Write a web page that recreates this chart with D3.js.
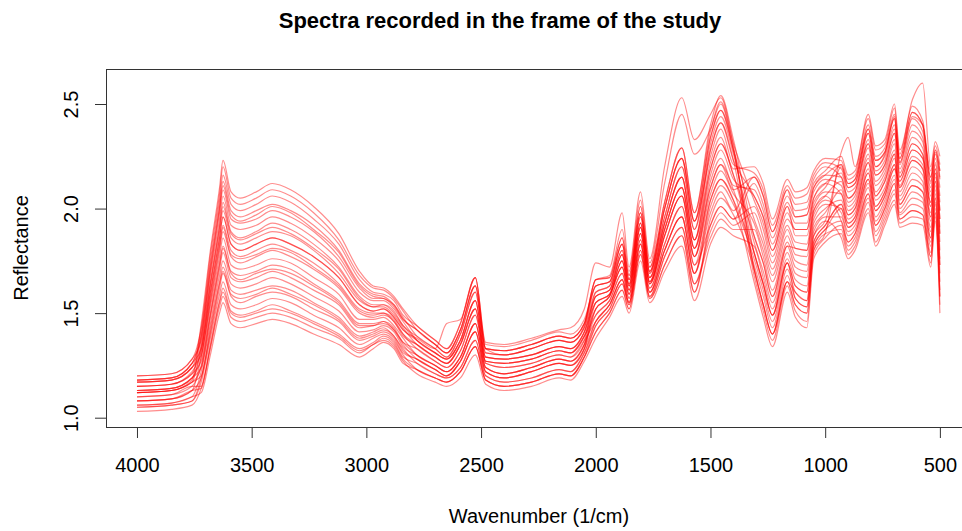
<!DOCTYPE html>
<html lang="en">

<head>
  <meta charset="UTF-8">
  <script src="https://cdn.jsdelivr.net/npm/d3@7"></script>
  <title>Spectra recorded in the frame of the study</title>
  <style>
    body { margin: 0; background: #fff; }
    text { font-family: "Liberation Sans", Arial, sans-serif; fill: #000; }
  </style>
</head>

<body>
  <script>
  const wavenumbers = [4000,3850,3760,3720,3680,3640,3625,3590,3550,3480,3410,3330,3230,3120,3030,2970,2925,2880,2840,
    2780,2700,2650,2590,2525,2480,2400,2280,2160,2110,2050,2000,1940,1885,1855,1805,1765,1700,1625,1570,
    1500,1455,1400,1310,1270,1230,1165,1130,1080,1050,1000,930,900,870,812,780,740,698,675,620,575,540,520,500];

  const xTicks = [4000, 3500, 3000, 2500, 2000, 1500, 1000, 500];
  const yTicks = [1.0, 1.5, 2.0, 2.5];

  // reflectance of each recorded spectrum
  const s01 = [1.06,1.07,1.10, 1.12,1.30,1.50,1.55,1.45,1.43,1.45,1.47,1.45,1.40,1.35,1.29,1.33,1.36,1.33,1.26, 1.23,1.19,1.17,1.22,1.34,1.18,1.15,1.17,1.21,1.20,1.29, 1.44,1.52,1.64,1.54,1.80,1.58,1.77,1.91,1.64, 1.89,1.98,1.92, 1.98,1.86,1.71,1.92,1.84,1.83,2.01,2.08, 2.07,1.97,2.00,2.22,2.06,2.13,2.26,2.10,2.23,2.19,1.96,2.13,1.88];
  const s02 = [1.03,1.04,1.06, 1.14,1.33,1.53,1.58,1.48,1.46,1.48,1.50,1.48,1.43,1.38,1.31,1.35,1.37,1.34,1.27, 1.21,1.17,1.15,1.19,1.30,1.16,1.13,1.15,1.19,1.18,1.27, 1.38,1.48,1.58,1.50,1.75,1.55,1.70,1.82,1.56, 1.83,1.91,1.87, 1.82,1.67,1.52,1.76,1.66,1.63,1.89,1.96, 1.96,1.87,1.90,2.10,1.94,2.02,2.14,2.00,2.08,2.05,1.84,2.03,1.69];
  const s03 = [1.10,1.11,1.15, 1.15,1.35,1.56,1.62,1.51,1.49,1.51,1.54,1.51,1.46,1.40,1.33,1.36,1.39,1.36,1.29, 1.26,1.21,1.19,1.24,1.37,1.20,1.17,1.19,1.23,1.22,1.31, 1.46,1.54,1.66,1.55,1.83,1.60,1.80,1.96,1.69, 1.98,2.08,1.99, 2.15,2.06,1.89,2.09,2.02,2.03,2.14,2.20, 2.15,2.05,2.08,2.31,2.16,2.21,2.36,2.17,2.34,2.29,2.06,2.21,2.03];
  const s04 = [1.05,1.06,1.08, 1.17,1.38,1.59,1.65,1.54,1.52,1.54,1.57,1.55,1.49,1.43,1.35,1.38,1.40,1.37,1.30, 1.23,1.19,1.17,1.22,1.34,1.18,1.15,1.17,1.21,1.20,1.29, 1.41,1.50,1.61,1.52,1.78,1.57,1.73,1.87,1.60, 1.95,2.05,1.97, 1.71,1.54,1.40,1.65,1.54,1.50,1.80,1.88, 1.90,1.80,1.84,2.03,1.87,1.96,2.07,1.95,1.99,1.97,1.77,1.98,1.58];
  const s05 = [1.08,1.09,1.13, 1.19,1.40,1.62,1.69,1.58,1.55,1.58,1.60,1.58,1.52,1.46,1.37,1.39,1.41,1.38,1.31, 1.28,1.23,1.20,1.27,1.41,1.22,1.19,1.22,1.26,1.25,1.33, 1.52,1.58,1.72,1.59,1.88,1.64,1.87,2.06,1.77, 2.13,2.24,2.11, 2.09,1.99,1.83,2.03,1.96,1.97,2.10,2.16, 2.21,2.12,2.14,2.38,2.23,2.27,2.43,2.22,2.43,2.37,2.13,2.26,2.14];
  const s06 = [1.12,1.13,1.17, 1.20,1.43,1.65,1.72,1.61,1.59,1.61,1.63,1.61,1.55,1.48,1.39,1.41,1.43,1.39,1.33, 1.26,1.21,1.19,1.24,1.37,1.20,1.17,1.19,1.23,1.22,1.31, 1.44,1.52,1.64,1.54,1.80,1.58,1.77,1.91,1.64, 1.86,1.95,1.90, 1.90,1.77,1.61,1.84,1.75,1.73,1.95,2.02, 2.00,1.91,1.94,2.14,1.99,2.06,2.19,2.04,2.14,2.11,1.89,2.07,1.76];
  const s07 = [1.06,1.07,1.10, 1.22,1.45,1.68,1.75,1.64,1.62,1.64,1.67,1.64,1.58,1.51,1.41,1.42,1.44,1.41,1.34, 1.30,1.25,1.22,1.29,1.45,1.24,1.21,1.24,1.28,1.27,1.35, 1.49,1.56,1.69,1.57,1.85,1.62,1.83,2.01,1.73, 2.04,2.14,2.04, 1.65,1.48,1.34,1.60,1.48,1.43,1.76,1.84, 1.88,1.78,1.82,2.00,1.84,1.94,2.04,1.93,1.96,1.95,1.74,1.96,1.54];
  const s08 = [1.13,1.14,1.19, 1.24,1.48,1.71,1.79,1.67,1.65,1.67,1.70,1.67,1.61,1.54,1.43,1.44,1.45,1.42,1.35, 1.28,1.23,1.20,1.27,1.41,1.22,1.19,1.22,1.26,1.25,1.33, 1.55,1.59,1.75,1.61,1.91,1.65,1.90,2.10,1.81, 2.16,2.28,2.14, 2.06,1.96,1.80,2.01,1.93,1.93,2.08,2.14, 2.11,2.01,2.04,2.26,2.11,2.17,2.31,2.13,2.28,2.24,2.01,2.17,1.95];
  const s09 = [1.10,1.11,1.15, 1.25,1.50,1.74,1.82,1.70,1.68,1.70,1.73,1.71,1.64,1.56,1.45,1.45,1.46,1.43,1.36, 1.33,1.27,1.24,1.32,1.49,1.26,1.24,1.26,1.30,1.29,1.37, 1.46,1.54,1.66,1.55,1.83,1.60,1.80,1.96,1.69, 2.01,2.11,2.02, 1.76,1.61,1.46,1.71,1.60,1.56,1.84,1.92, 2.02,1.93,1.96,2.17,2.01,2.08,2.21,2.06,2.17,2.13,1.91,2.09,1.80];
  const s10 = [1.15,1.16,1.21, 1.27,1.53,1.77,1.86,1.73,1.71,1.73,1.76,1.74,1.67,1.59,1.47,1.47,1.48,1.44,1.38, 1.30,1.25,1.22,1.29,1.45,1.24,1.21,1.24,1.28,1.27,1.35, 1.58,1.61,1.78,1.63,1.93,1.67,1.93,2.15,1.85, 2.22,2.34,2.19, 2.20,2.12,1.95,2.14,2.08,2.10,2.18,2.24, 2.23,2.14,2.16,2.40,2.25,2.29,2.45,2.24,2.46,2.40,2.15,2.28,2.18];
  const s11 = [1.08,1.09,1.13, 1.29,1.55,1.80,1.89,1.77,1.74,1.77,1.80,1.77,1.71,1.62,1.50,1.48,1.49,1.46,1.39, 1.35,1.29,1.26,1.35,1.52,1.27,1.26,1.28,1.32,1.31,1.39, 1.52,1.58,1.72,1.59,1.88,1.64,1.87,2.06,1.77, 2.07,2.18,2.07, 1.93,1.80,1.65,1.87,1.78,1.77,1.97,2.04, 1.98,1.89,1.92,2.12,1.96,2.04,2.16,2.02,2.11,2.08,1.86,2.05,1.73];
  const s12 = [1.17,1.18,1.24, 1.30,1.58,1.83,1.92,1.80,1.77,1.80,1.83,1.80,1.74,1.64,1.52,1.50,1.50,1.47,1.40, 1.33,1.27,1.24,1.32,1.49,1.26,1.24,1.26,1.30,1.29,1.37, 1.60,1.63,1.80,1.64,1.96,1.69,1.96,2.20,1.90, 2.31,2.44,2.26, 1.84,1.70,1.55,1.79,1.69,1.67,1.91,1.98, 2.09,1.99,2.02,2.24,2.08,2.15,2.28,2.11,2.25,2.21,1.98,2.15,1.91];
  const s13 = [1.13,1.14,1.19, 1.32,1.60,1.86,1.96,1.83,1.80,1.83,1.86,1.83,1.77,1.67,1.54,1.51,1.52,1.48,1.42, 1.37,1.31,1.28,1.37,1.56,1.29,1.28,1.30,1.34,1.33,1.41, 1.55,1.59,1.75,1.61,1.91,1.65,1.90,2.10,1.81, 2.10,2.21,2.09, 1.73,1.58,1.43,1.68,1.57,1.53,1.82,1.90, 1.94,1.84,1.88,2.07,1.92,2.00,2.12,1.98,2.05,2.03,1.82,2.02,1.65];
  const s14 = [1.18,1.19,1.26, 1.33,1.63,1.89,1.99,1.86,1.83,1.86,1.89,1.87,1.80,1.69,1.56,1.53,1.53,1.49,1.43, 1.35,1.29,1.26,1.35,1.52,1.27,1.26,1.28,1.32,1.31,1.39, 1.49,1.56,1.69,1.57,1.85,1.62,1.83,2.01,1.73, 1.92,2.01,1.95, 2.12,2.02,1.86,2.06,1.99,2.00,2.12,2.18, 2.25,2.16,2.18,2.43,2.28,2.31,2.48,2.26,2.49,2.42,2.18,2.30,2.21];
  const s15 = [1.12,1.13,1.17, 1.35,1.65,1.92,2.03,1.89,1.86,1.89,1.93,1.90,1.83,1.72,1.58,1.54,1.54,1.51,1.44, 1.39,1.33,1.29,1.40,1.60,1.31,1.30,1.33,1.37,1.36,1.43, 1.63,1.65,1.83,1.66,1.98,1.70,2.00,2.24,1.94, 2.34,2.47,2.28, 1.95,1.83,1.68,1.90,1.81,1.80,1.99,2.06, 2.13,2.03,2.06,2.29,2.13,2.19,2.33,2.15,2.31,2.26,2.03,2.19,1.99];
  const s16 = [1.20,1.21,1.28, 1.37,1.68,1.95,2.06,1.92,1.90,1.92,1.96,1.93,1.86,1.75,1.60,1.56,1.56,1.52,1.46, 1.37,1.31,1.28,1.37,1.56,1.29,1.28,1.30,1.34,1.33,1.41, 1.58,1.61,1.78,1.63,1.93,1.67,1.93,2.15,1.85, 2.19,2.31,2.16, 1.79,1.64,1.49,1.74,1.63,1.60,1.87,1.94, 1.86,1.76,1.80,1.98,1.82,1.92,2.02,1.91,1.93,1.92,1.72,1.94,1.50];
  const s17 = [1.15,1.16,1.21, 1.38,1.70,1.98,2.09,1.95,1.93,1.95,1.99,1.96,1.89,1.77,1.62,1.57,1.57,1.53,1.47, 1.42,1.35,1.31,1.42,1.63,1.33,1.32,1.35,1.39,1.38,1.45, 1.66,1.67,1.86,1.68,2.01,1.72,2.03,2.29,1.98, 2.37,2.51,2.31, 2.04,1.93,1.77,1.98,1.90,1.90,2.05,2.12, 2.17,2.08,2.10,2.33,2.18,2.23,2.38,2.19,2.37,2.32,2.08,2.22,2.06];
  const s18 = [1.17,1.18,1.24, 1.40,1.73,2.01,2.13,1.99,1.96,1.99,2.02,1.99,1.92,1.80,1.64,1.59,1.58,1.54,1.48, 1.39,1.33,1.29,1.40,1.60,1.31,1.30,1.33,1.37,1.36,1.43, 1.60,1.63,1.80,1.64,1.96,1.69,1.96,2.20,1.90, 2.28,2.41,2.23, 1.68,1.51,1.37,1.63,1.51,1.46,1.78,1.86, 1.92,1.82,1.86,2.05,1.89,1.98,2.09,1.97,2.02,2.00,1.79,2.00,1.61];
  const s19 = [1.18,1.19,1.26, 1.42,1.75,2.04,2.16,2.02,1.99,2.02,2.06,2.03,1.95,1.83,1.66,1.60,1.59,1.56,1.49, 1.44,1.37,1.33,1.45,1.67,1.35,1.34,1.37,1.41,1.40,1.47, 1.63,1.65,1.83,1.66,1.98,1.70,2.00,2.24,1.94, 2.25,2.38,2.21, 2.17,2.09,1.92,2.11,2.05,2.07,2.16,2.22, 2.19,2.10,2.12,2.36,2.20,2.25,2.40,2.21,2.40,2.34,2.10,2.24,2.10];
  const s20 = [1.20,1.21,1.28, 1.43,1.78,2.07,2.20,2.05,2.02,2.05,2.09,2.06,1.98,1.85,1.68,1.62,1.61,1.57,1.51, 1.42,1.35,1.31,1.42,1.63,1.33,1.32,1.35,1.39,1.38,1.45, 1.66,1.67,1.86,1.68,2.01,1.72,2.03,2.29,1.98, 2.40,2.54,2.33, 1.87,1.74,1.58,1.82,1.72,1.70,1.93,2.00, 2.04,1.95,1.98,2.19,2.04,2.10,2.24,2.08,2.20,2.16,1.94,2.11,1.84];
  const s21 = [1.12,1.13,1.18, 1.45,1.80,2.10,2.23,2.08,2.05,2.08,2.12,2.09,2.01,1.88,1.70,1.63,1.62,1.58,1.52, 1.44,1.37,1.33,1.45,1.67,1.36,1.35,1.38,1.42,1.43,1.52, 1.74,1.72,1.98,1.72,2.08,1.76,2.20,2.53,2.33, 2.45,2.53,2.30, 1.71,1.54,1.40,1.65,1.54,1.50,1.80,1.88, 2.27,2.34,2.20,2.45,2.30,2.33,2.50,2.28,2.52,2.60,2.20,2.32,2.25];
  const s22 = [1.15,1.16,1.22, 1.32,1.60,1.86,1.96,1.83,1.80,1.83,1.86,1.83,1.77,1.67,1.54,1.51,1.52,1.48,1.42, 1.38,1.33,1.45,1.47,1.67,1.33,1.30,1.33,1.37,1.36,1.44, 1.66,1.68,1.90,1.70,2.04,1.74,2.12,2.45,2.26, 2.38,2.50,2.28, 1.79,1.64,1.49,1.74,1.63,1.60,1.87,1.94, 2.20,2.10,2.12,2.36,2.20,2.26,2.44,2.22,2.44,2.40,2.12,2.27,2.15];
  const s23 = [1.08,1.09,1.13, 1.14,1.34,1.55,1.60,1.50,1.48,1.50,1.52,1.50,1.45,1.39,1.32,1.35,1.38,1.35,1.28, 1.23,1.19,1.17,1.22,1.34,1.18,1.15,1.17,1.21,1.20,1.29, 1.41,1.50,1.61,1.52,1.78,1.57,1.73,1.87,1.60, 1.92,2.01,1.95, 2.01,1.90,1.74,1.95,1.90,1.90,2.05,2.12, 2.07,1.97,2.00,2.22,2.06,2.13,2.26,2.02,2.11,2.08,1.86,2.05,1.73];
  const s24 = [1.05,1.06,1.08, 1.19,1.41,1.64,1.70,1.59,1.57,1.59,1.62,1.59,1.54,1.47,1.38,1.40,1.42,1.39,1.32, 1.28,1.23,1.20,1.27,1.41,1.22,1.19,1.22,1.26,1.25,1.33, 1.46,1.54,1.66,1.55,1.83,1.60,1.80,1.96,1.69, 2.04,2.14,2.04, 1.79,1.64,1.49,1.74,1.57,1.53,1.82,1.90, 2.00,1.91,1.94,2.14,1.99,2.06,2.19,2.13,2.28,2.24,2.01,2.17,1.95];
  const s25 = [1.12,1.13,1.17, 1.24,1.49,1.73,1.81,1.69,1.66,1.69,1.71,1.69,1.63,1.55,1.44,1.44,1.46,1.42,1.36, 1.30,1.25,1.22,1.29,1.45,1.24,1.21,1.24,1.28,1.27,1.35, 1.52,1.58,1.72,1.59,1.88,1.64,1.87,2.06,1.77, 2.10,2.21,2.09, 2.15,2.06,1.89,2.09,1.96,1.97,2.10,2.16, 2.15,2.05,2.08,2.31,2.16,2.21,2.36,2.24,2.46,2.40,2.15,2.28,2.18];
  const s26 = [1.13,1.14,1.19, 1.29,1.56,1.82,1.91,1.78,1.76,1.78,1.81,1.79,1.72,1.63,1.51,1.49,1.50,1.46,1.40, 1.35,1.29,1.26,1.35,1.52,1.27,1.26,1.28,1.32,1.31,1.39, 1.55,1.59,1.75,1.61,1.91,1.65,1.90,2.10,1.81, 2.19,2.31,2.16, 1.87,1.74,1.58,1.82,1.81,1.80,1.99,2.06, 1.94,1.84,1.88,2.07,1.92,2.00,2.12,1.95,1.99,1.97,1.77,1.98,1.58];
  const s27 = [1.17,1.18,1.24, 1.34,1.64,1.91,2.01,1.88,1.85,1.88,1.91,1.88,1.81,1.71,1.57,1.53,1.54,1.50,1.44, 1.37,1.31,1.28,1.37,1.56,1.29,1.28,1.30,1.34,1.33,1.41, 1.58,1.61,1.78,1.63,1.93,1.67,1.93,2.15,1.85, 2.28,2.41,2.23, 2.06,1.96,1.80,2.01,1.87,1.87,2.03,2.10, 2.21,2.12,2.14,2.38,2.23,2.27,2.43,2.15,2.31,2.26,2.03,2.19,1.99];
  const s28 = [1.18,1.19,1.26, 1.39,1.71,2.00,2.11,1.97,1.94,1.97,2.01,1.98,1.90,1.79,1.63,1.58,1.57,1.54,1.47, 1.42,1.35,1.31,1.42,1.63,1.33,1.32,1.35,1.39,1.38,1.45, 1.63,1.65,1.83,1.66,1.98,1.70,2.00,2.24,1.94, 2.34,2.47,2.28, 1.71,1.54,1.40,1.65,1.60,1.56,1.84,1.92, 2.02,1.93,1.96,2.17,2.01,2.08,2.21,2.10,2.23,2.19,1.96,2.13,1.88];

  const spectra = [s01, s02, s03, s04, s05, s06, s07, s08, s09, s10, s11, s12, s13, s14,
                   s15, s16, s17, s18, s19, s20, s21, s22, s23, s24, s25, s26, s27, s28];

  const w = 962;
  const h = 531;
  const box = { left: 106, right: 972, top: 69, bottom: 427 };

  const svg = d3.select("body")
    .append("svg")
    .attr("width", w)
    .attr("height", h);

  // reversed wavenumber axis, like an IR plot
  const x = d3.scaleLinear().domain([4135, 360]).range([box.left, box.right]);
  const y = d3.scaleLinear().domain([0.9555, 2.6674]).range([box.bottom, box.top]);

  const line = d3.line()
    .x((d, i) => x(wavenumbers[i]))
    .y(d => y(d))
    .curve(d3.curveMonotoneX);

  svg.append("g")
    .selectAll("path")
    .data(spectra)
    .enter()
    .append("path")
    .attr("d", line)
    .attr("fill", "none")
    .attr("stroke", "#ff0000")
    .attr("stroke-opacity", 0.45)
    .attr("stroke-width", 1.2);

  // axes, R style
  const xAxis = svg.append("g")
    .attr("transform", "translate(0," + box.bottom + ")")
    .call(d3.axisBottom(x).tickValues(xTicks).tickSize(11).tickPadding(20).tickFormat(d3.format("d")));
  xAxis.select(".domain").remove();
  xAxis.selectAll("line").attr("stroke", "#333");
  xAxis.selectAll("text").style("font-size", "20px").attr("fill", "#000");

  const yAxis = svg.append("g")
    .attr("transform", "translate(" + box.left + ",0)")
    .call(d3.axisLeft(y).tickValues(yTicks).tickSize(11).tickFormat(d3.format(".1f")));
  yAxis.select(".domain").remove();
  yAxis.selectAll("line").attr("stroke", "#333");
  yAxis.selectAll("text")
    .style("font-size", "20px")
    .attr("fill", "#000")
    .attr("x", 0)
    .attr("y", -28)
    .attr("dy", 0)
    .attr("text-anchor", "middle")
    .attr("transform", "rotate(-90)");

  // plot box
  svg.append("rect")
    .attr("x", box.left + 0.5)
    .attr("y", box.top + 0.5)
    .attr("width", box.right - box.left)
    .attr("height", box.bottom - box.top)
    .attr("fill", "none")
    .attr("stroke", "#333")
    .attr("stroke-width", 1);

  svg.append("text")
    .attr("x", 500)
    .attr("y", 28)
    .attr("text-anchor", "middle")
    .style("font-size", "22px")
    .style("font-weight", "bold")
    .text("Spectra recorded in the frame of the study");

  svg.append("text")
    .attr("x", 539)
    .attr("y", 523)
    .attr("text-anchor", "middle")
    .style("font-size", "20px")
    .text("Wavenumber (1/cm)");

  svg.append("text")
    .attr("transform", "translate(28,248) rotate(-90)")
    .attr("text-anchor", "middle")
    .style("font-size", "20px")
    .text("Reflectance");
  </script>
</body>
</html>
